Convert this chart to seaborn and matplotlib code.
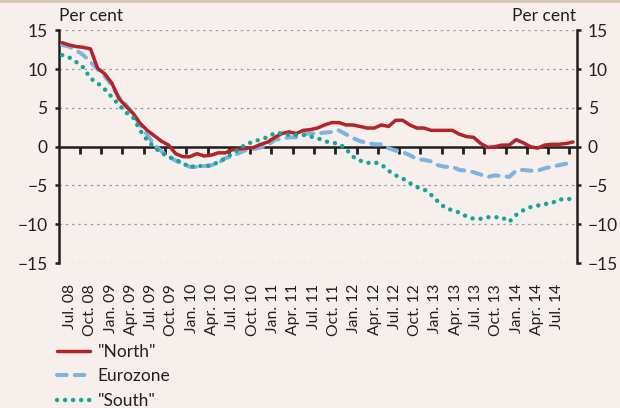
import numpy as np
import pandas as pd
import matplotlib
matplotlib.use("Agg")
import matplotlib.pyplot as plt
from matplotlib.lines import Line2D
from matplotlib.patches import Rectangle
import seaborn as sns

# ---------------- data ----------------
tick_labels = ["Jul. 08", "Oct. 08", "Jan. 09", "Apr. 09", "Jul. 09", "Oct. 09",
               "Jan. 10", "Apr. 10", "Jul. 10", "Oct. 10", "Jan. 11", "Apr. 11",
               "Jul. 11", "Oct. 11", "Jan. 12", "Apr. 12", "Jul. 12", "Oct. 12",
               "Jan. 13", "Apr. 13", "Jul. 13", "Oct. 13", "Jan. 14", "Apr. 14",
               "Jul. 14"]

north = [13.4, 13.1, 12.9, 12.8, 12.6, 10.1, 9.4, 8.2, 6.2, 5.2,
         4.3, 3.0, 2.1, 1.4, 0.7, 0.2, -0.9, -1.3, -1.3, -0.9,
         -1.2, -1.1, -0.8, -0.8, -0.4, -0.3, -0.2, -0.1, 0.3, 0.6,
         1.2, 1.7, 1.9, 1.7, 2.1, 2.2, 2.4, 2.8, 3.1, 3.1,
         2.8, 2.8, 2.6, 2.4, 2.4, 2.8, 2.6, 3.4, 3.4, 2.8,
         2.4, 2.4, 2.1, 2.1, 2.1, 2.1, 1.6, 1.3, 1.2, 0.4,
         -0.1, 0.0, 0.2, 0.2, 0.9, 0.5, 0.0, -0.2, 0.2, 0.3,
         0.3, 0.4, 0.6]

eurozone = [13.1, 12.9, 12.4, 11.8, 10.9, 10.0, 9.1, 7.9, 6.4, 5.4,
            4.1, 2.8, 1.5, 0.2, -0.6, -1.3, -1.8, -2.2, -2.6, -2.6,
            -2.5, -2.4, -2.1, -1.5, -1.2, -0.8, -0.4, -0.3, -0.1, 0.2,
            0.9, 1.0, 1.2, 1.2, 1.6, 1.7, 1.7, 1.8, 1.9, 2.1,
            1.6, 1.1, 0.7, 0.5, 0.3, 0.3, -0.2, -0.5, -0.7, -1.1,
            -1.6, -1.7, -1.9, -2.4, -2.6, -2.6, -3.0, -3.1, -3.3, -3.6,
            -3.9, -3.7, -3.8, -3.9, -3.1, -3.0, -3.1, -3.1, -2.8, -2.6,
            -2.4, -2.2, -2.1]

south = [11.8, 11.5, 10.9, 10.2, 8.8, 8.2, 7.4, 6.4, 5.4, 4.4,
         3.8, 2.1, 0.8, -0.1, -0.8, -1.3, -1.7, -2.1, -2.7, -2.4,
         -2.6, -2.4, -2.0, -1.5, -0.9, -0.3, 0.4, 0.6, 1.0, 1.2,
         1.8, 1.7, 1.5, 1.5, 1.5, 1.3, 1.1, 0.7, 0.5, 0.4,
         -0.3, -1.3, -1.8, -2.1, -2.0, -2.3, -3.1, -3.7, -4.1, -4.7,
         -5.2, -5.5, -6.2, -7.1, -7.9, -8.2, -8.5, -9.0, -9.3, -9.3,
         -9.1, -9.1, -9.1, -9.7, -8.8, -8.2, -7.8, -7.6, -7.4, -7.3,
         -6.8, -6.8, -6.7]

series_names = ['"North"', "Eurozone", '"South"']
y_ticks = [-15, -10, -5, 0, 5, 10, 15]

# ---------------- style ----------------
sns.set_theme(style="white")
plt.rcParams["font.family"] = ["Lato", "DejaVu Sans"]
plt.rcParams["axes.unicode_minus"] = True

BG = "#F6EFEC"
DARK = "#231F20"
RED = "#B22428"
BLUE = "#7DB4DF"
TEAL = "#17A597"
FS = 12.5
FSX = 11.3

fig = plt.figure(figsize=(6.2, 4.08), dpi=100, facecolor=BG)
fig.patches.append(Rectangle((0, 1 - 3 / 408), 1, 3 / 408, transform=fig.transFigure,
                             facecolor="#D9C8BA", edgecolor="none", zorder=0))

L, R, T, B = 58.6, 576.5, 30.3, 263.0
ax = fig.add_axes([L / 620, 1 - B / 408, (R - L) / 620, (B - T) / 408])
ax.set_facecolor(BG)

df = pd.DataFrame({"month": np.arange(len(north)),
                   series_names[0]: north,
                   series_names[1]: eurozone,
                   series_names[2]: south})

sns.lineplot(data=df, x="month", y=series_names[1], ax=ax, color=BLUE,
             linewidth=2.9, linestyle=(0, (2.4, 2.0)), dash_capstyle="round",
             zorder=3, legend=False)
sns.lineplot(data=df, x="month", y=series_names[0], ax=ax, color=RED,
             linewidth=2.5, zorder=4, legend=False)
sns.lineplot(data=df, x="month", y=series_names[2], ax=ax, color=TEAL,
             linewidth=3.2, linestyle=(0, (0.01, 1.8)), dash_capstyle="round",
             zorder=5, legend=False)

ax.set_xlim(-0.5, len(north) - 0.5)
ax.set_ylim(-15, 15)
ax.set_xlabel("")
ax.set_ylabel("")

# y axis (both sides)
ax.set_yticks(y_ticks)
ax.set_yticklabels([f"{v}".replace("-", "\u2212") for v in y_ticks])
ax.tick_params(axis="y", which="major", left=True, right=True, labelleft=True,
               labelright=True, direction="out", length=3, width=1.8,
               color=DARK, labelsize=FS, labelcolor=DARK, pad=5)
ax.yaxis.grid(True, linestyle=(0, (2, 3)), color="#9C9C9C", linewidth=0.9)
ax.xaxis.grid(False)
ax.set_axisbelow(True)

for s in ["top", "bottom"]:
    ax.spines[s].set_visible(False)
for s in ["left", "right"]:
    ax.spines[s].set_visible(True)
    ax.spines[s].set_color(DARK)
    ax.spines[s].set_linewidth(1.8)

# x tick labels (rotated) along the bottom
label_pos = np.linspace(1.1, 69.8, len(tick_labels))
ax.set_xticks(label_pos)
ax.set_xticklabels(tick_labels, rotation=90)
ax.tick_params(axis="x", bottom=True, length=0, pad=15, labelsize=FSX, labelcolor=DARK)

# zero axis line with quarterly tick marks
ax.axhline(0, color=DARK, linewidth=1.8, zorder=2.5)
sec = ax.secondary_xaxis(0, transform=ax.transData)
sec.set_xticks(np.arange(2.5, len(north), 3))
sec.tick_params(axis="x", direction="out", length=5, width=2.0, color=DARK,
                labelbottom=False, labeltop=False, bottom=True, top=False)
for s in sec.spines.values():
    s.set_visible(False)

# unit labels
ax.text(0, 1.025, "Per cent", transform=ax.transAxes, ha="left", va="bottom",
        fontsize=FS, color=DARK)
ax.text(1, 1.025, "Per cent", transform=ax.transAxes, ha="right", va="bottom",
        fontsize=FS, color=DARK)

# legend
handles = [
    Line2D([], [], color=RED, linewidth=2.5),
    Line2D([], [], color=BLUE, linewidth=2.9, linestyle=(0, (2.4, 2.0)), dash_capstyle="round"),
    Line2D([], [], color=TEAL, linewidth=3.2, linestyle=(0, (0.01, 1.8)), dash_capstyle="round"),
]
leg = fig.legend(handles, series_names, loc="upper left",
                 bbox_to_anchor=(57 / 620, 1 - 344 / 408), frameon=False,
                 fontsize=FS, handlelength=1.9, handletextpad=0.45,
                 labelspacing=0.48, borderpad=0, borderaxespad=0)
for t in leg.get_texts():
    t.set_color(DARK)

fig.savefig("out.png", dpi=100, facecolor=BG)
